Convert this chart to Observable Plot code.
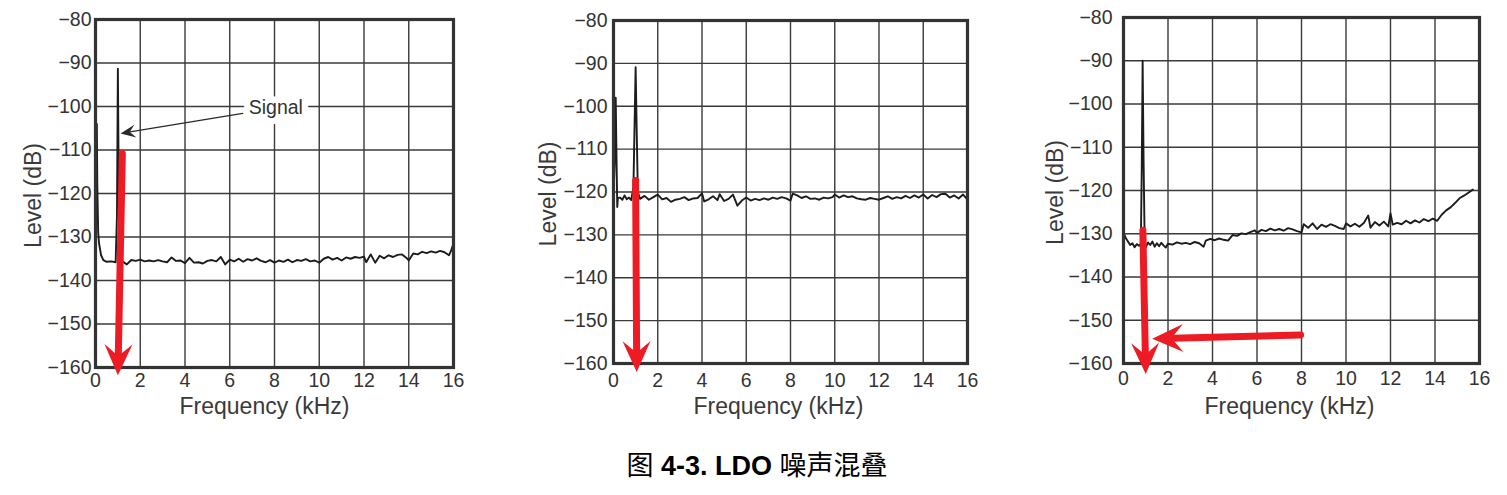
<!DOCTYPE html>
<html><head><meta charset="utf-8">
<script src="https://cdn.jsdelivr.net/npm/d3@7"></script>
<script src="https://cdn.jsdelivr.net/npm/@observablehq/plot@0.6"></script>
<style>
body{margin:0;background:#fff;}
#wrap{position:relative;width:1507px;height:495px;overflow:hidden;font-family:"Liberation Sans",Arial,sans-serif;background:#fff;}
.panel{position:absolute;top:0;}
#caption{position:absolute;left:0;width:1514px;top:444px;text-align:center;font-size:27px;line-height:40px;color:#000;white-space:nowrap;}
.cjk{font-family:"Noto Sans CJK SC",sans-serif;}
</style>
</head><body>
<div id="wrap">
  <div class="panel" id="p1" style="left:0px"></div>
  <div class="panel" id="p2" style="left:510px"></div>
  <div class="panel" id="p3" style="left:1010px"></div>
  <div id="caption"><span class="cjk">图</span> <b>4-3. LDO</b> <span class="cjk">噪声混叠</span></div>
</div>
<script>
// ---- tick labels / axis titles ----
const xTicks = [0, 2, 4, 6, 8, 10, 12, 14, 16];
const yTicks = [-80, -90, -100, -110, -120, -130, -140, -150, -160];
const xLabel = "Frequency (kHz)";
const yLabel = "Level (dB)";
const signalLabel = "Signal";

// ---- panel 1 ----
const p1Freq = [0.06,0.08,0.12,0.16,0.25,0.35,0.5,0.7,0.9,0.96,1.0,1.03,1.07,1.1,
  1.2,1.4,1.6,1.8,2.0,2.2,2.4,2.6,2.8,3.0,3.2,3.4,3.6,3.8,4.0,4.2,4.4,4.6,4.8,5.0,
  5.2,5.4,5.6,5.8,6.0,6.2,6.4,6.6,6.8,7.0,7.2,7.4,7.6,7.8,8.0,8.2,8.4,8.6,8.8,9.0,
  9.2,9.4,9.6,9.8,10.0,10.2,10.4,10.6,10.8,11.0,11.2,11.4,11.6,11.8,12.0,12.1,12.3,
  12.5,12.7,12.9,13.1,13.3,13.5,13.7,13.9,14.0,14.2,14.4,14.6,14.8,15.0,15.2,15.4,
  15.6,15.8,15.9,16.0];
const p1Level = [-104,-118,-129,-131.5,-134.2,-135.3,-135.7,-135.6,-135.8,-125,-91.3,-112,-130,-135.5,
  -135.6,-136.3,-135.3,-135.5,-135.2,-135.6,-135.4,-135.6,-135.3,-135.6,-135.8,-134.7,-135.5,-135.4,-136.0,-134.8,-135.9,-135.8,-136.1,-135.5,
  -135.3,-135.6,-134.6,-136.3,-135.2,-135.6,-135.0,-135.7,-135.1,-135.4,-134.9,-135.5,-135.8,-135.3,-135.9,-135.4,-135.7,-135.2,-135.8,-135.3,
  -135.5,-135.1,-135.6,-135.4,-135.9,-135.0,-134.6,-135.2,-134.8,-135.4,-134.7,-135.0,-134.6,-134.8,-134.5,-135.8,-134.0,
  -135.9,-134.3,-134.9,-134.2,-134.6,-134.1,-134.0,-134.8,-135.4,-133.8,-134.0,-133.4,-133.7,-133.3,-133.6,-133.2,
  -133.5,-134.2,-133.0,-131.5];
const p1Arrows = [{x1: 1.2, y1: -110.8, x2: 1.0, y2: -161.8}];
const p1Leader = [{x1: 6.58, y1: -101.6, x2: 1.12, y2: -106.2}];
const p1Signal = [{x: 8.06, y: -100.2}];

// ---- panel 2 ----
const p2Freq = [0.0,0.06,0.1,0.13,0.17,0.2,0.3,0.4,0.5,0.6,0.7,0.8,0.9,0.95,1.0,1.05,1.1,
  1.2,1.4,1.6,1.8,2.0,2.2,2.4,2.6,2.8,3.0,3.2,3.4,3.6,3.8,4.0,4.1,4.3,4.5,4.7,4.8,5.0,
  5.2,5.4,5.6,5.8,6.0,6.2,6.4,6.6,6.8,7.0,7.2,7.4,7.6,7.8,8.0,8.1,8.3,8.5,8.7,8.9,9.1,
  9.3,9.5,9.7,9.9,10.0,10.2,10.4,10.6,10.8,11.0,11.2,11.4,11.6,11.8,12.0,12.2,12.4,12.6,
  12.8,13.0,13.2,13.4,13.6,13.8,14.0,14.2,14.4,14.6,14.8,15.0,15.2,15.4,15.6,15.8,16.0];
const p2Level = [-121,-112,-98,-110,-123.5,-121.4,-121.3,-121.8,-120.8,-121.7,-121.3,-121.9,-119,-105,-90.9,-106,-120,
  -121.6,-120.9,-121.8,-121.2,-120.6,-121.7,-121.4,-122.3,-121.8,-121.6,-121.2,-121.9,-121.5,-121.4,-120.3,-122.2,-121.7,-121.0,-121.9,-120.5,-122.1,
  -121.6,-120.6,-123.2,-122.0,-121.3,-122.0,-121.6,-121.9,-121.5,-121.8,-121.3,-121.6,-121.2,-121.5,-122.0,-120.4,-120.8,-121.4,-121.0,-121.6,-121.5,
  -121.8,-121.3,-121.5,-121.2,-120.6,-121.3,-120.8,-121.2,-121.0,-121.5,-121.7,-121.8,-121.4,-121.6,-121.8,-121.4,-121.0,-121.6,
  -121.2,-121.5,-120.9,-121.4,-120.8,-121.3,-120.6,-121.5,-120.7,-121.2,-120.5,-120.4,-121.3,-120.8,-121.5,-120.6,-121.8];
const p2Arrows = [{x1: 1.0, y1: -117.3, x2: 1.05, y2: -162}];

// ---- panel 3 ----
const p3Freq = [0.0,0.1,0.2,0.3,0.4,0.5,0.6,0.7,0.78,0.82,0.86,0.9,0.95,1.0,1.1,1.2,1.3,1.4,1.5,1.6,1.7,1.8,1.9,
  2.0,2.2,2.4,2.6,2.8,3.0,3.2,3.4,3.6,3.7,3.9,4.1,4.3,4.5,4.7,4.9,5.1,5.3,5.5,5.7,5.9,6.0,6.2,6.4,
  6.6,6.8,7.0,7.2,7.4,7.6,7.8,8.0,8.1,8.3,8.5,8.7,8.9,9.1,9.3,9.5,9.7,9.9,10.0,10.2,10.4,10.6,10.8,
  11.0,11.1,11.3,11.5,11.7,11.9,12.0,12.1,12.3,12.5,12.7,12.9,13.1,13.3,13.5,13.7,13.9,14.1,14.3,
  14.5,14.7,14.9,15.1,15.3,15.5,15.7];
const p3Level = [-129.7,-131.0,-131.8,-132.6,-132.2,-133.1,-132.4,-132.8,-132.3,-115,-90,-112,-131.5,-133.2,-132.0,-132.6,-131.8,-133.0,-132.2,-132.9,-132.1,-132.7,-133.2,
  -132.3,-132.5,-132.0,-132.3,-132.1,-132.4,-131.9,-132.2,-133.0,-131.6,-131.2,-131.5,-131.1,-131.4,-131.6,-130.3,-130.5,-129.9,-130.1,-129.6,-129.2,-129.8,-129.1,-129.4,
  -128.8,-129.2,-128.9,-129.3,-128.7,-129.0,-129.4,-129.7,-127.8,-128.6,-127.6,-128.9,-127.9,-128.4,-127.8,-128.2,-128.7,-128.9,-127.6,-128.3,-127.7,-128.4,-127.5,
  -125.8,-128.6,-127.3,-128.1,-127.2,-128.3,-125.3,-127.9,-127.5,-127.8,-127.0,-127.6,-126.9,-127.4,-126.6,-127.1,-126.5,-127.0,-125.6,
  -124.6,-123.9,-122.9,-121.8,-121.2,-120.5,-119.8];
const p3Arrows = [
  {x1: 0.87, y1: -129.2, x2: 1.0, y2: -162.4},
  {x1: 7.96, y1: -153.4, x2: 1.29, y2: -154.3}
];

// ---- drawing ----
const stealth = {
  draw(context, l, r) {
    context.moveTo(0, -l);
    context.lineTo(r, 0);
    context.lineTo(0, -l * 0.38);
    context.lineTo(-r, 0);
    context.closePath();
  }
};
const RED = "#ed1c24";
const INK = "#333";

function panel(cfg) {
  const {freq, level, arrows, w, h, ml, mr, mt, mb, yPad, xPad, xLabelDy, xLabelDx, yLabelDx, extra} = cfg;
  const series = freq.map((f, i) => ({f, v: level[i]}));
  const kx = (w - ml - mr) / 16, ky = (h - mt - mb) / 80;
  const heads = arrows.map(a => ({x: a.x2, y: a.y2,
    rot: Math.atan2((a.x2 - a.x1) * kx, (a.y2 - a.y1) * ky) * 180 / Math.PI}));
  return Plot.plot({
    width: w, height: h,
    marginLeft: ml, marginRight: mr, marginTop: mt, marginBottom: mb,
    style: {fontFamily: "'Liberation Sans', Arial, sans-serif", fontSize: "19px", color: INK, background: "transparent", overflow: "visible"},
    x: {domain: [0, 16], label: null},
    y: {domain: [-160, -80], label: null},
    marks: [
      Plot.gridX(xTicks, {stroke: "#3a3a3a", strokeOpacity: 1, strokeWidth: 1.4}),
      Plot.gridY(yTicks, {stroke: "#3a3a3a", strokeOpacity: 1, strokeWidth: 1.4}),
      Plot.axisX(xTicks, {tickSize: 0, tickPadding: xPad, label: null, fontSize: 19.5}),
      Plot.axisY(yTicks, {tickSize: 0, tickPadding: yPad, label: null, fontSize: 19.5}),
      ...(extra || []),
      Plot.line(series, {x: "f", y: "v", stroke: "#1c1c1c", strokeWidth: 1.9, strokeLinejoin: "round"}),
      Plot.frame({stroke: "#333", strokeWidth: 3.2}),
      Plot.arrow(arrows, {x1: "x1", y1: "y1", x2: "x2", y2: "y2", stroke: RED, strokeWidth: 7,
        headLength: 0, insetEnd: 20, strokeLinecap: "round"}),
      Plot.vector(heads, {x: "x", y: "y", rotate: "rot", length: 31, r: 14, anchor: "end",
        shape: stealth, fill: RED, stroke: "none"}),
      Plot.text([xLabel], {text: d => d, frameAnchor: "bottom", textAnchor: "middle", lineAnchor: "top", dy: xLabelDy, dx: xLabelDx, fontSize: 23, fill: "#3a3a3a"}),
      Plot.text([yLabel], {text: d => d, frameAnchor: "left", textAnchor: "middle", lineAnchor: "middle", rotate: -90, dx: yLabelDx, dy: 2, fontSize: 23, fill: "#3a3a3a"})
    ]
  });
}

const p1Extra = (() => {
  const kx = (500 - 95 - 47) / 16, ky = (420 - 19 - 53) / 80;
  const lh = p1Leader.map(a => ({x: a.x2, y: a.y2,
    rot: Math.atan2((a.x2 - a.x1) * kx, (a.y2 - a.y1) * ky) * 180 / Math.PI}));
  return [
    Plot.text(p1Signal, {x: "x", y: "y", text: () => signalLabel, fontSize: 19.5, fill: INK,
      stroke: "white", strokeWidth: 13, paintOrder: "stroke", strokeLinejoin: "round"}),
    Plot.arrow(p1Leader, {x1: "x1", y1: "y1", x2: "x2", y2: "y2", stroke: "#2a2a2a", strokeWidth: 1.3,
      headLength: 0, insetEnd: 8}),
    Plot.vector(lh, {x: "x", y: "y", rotate: "rot", length: 15, r: 6.5, anchor: "end",
      shape: stealth, fill: "#2a2a2a", stroke: "none"})
  ];
})();

document.getElementById("p1").append(panel({freq: p1Freq, level: p1Level, arrows: p1Arrows,
  w: 500, h: 420, ml: 95, mr: 47, mt: 19, mb: 53, yPad: 4, xPad: 6, xLabelDy: 30, xLabelDx: -10, yLabelDx: -62, extra: p1Extra}));
document.getElementById("p2").append(panel({freq: p2Freq, level: p2Level, arrows: p2Arrows,
  w: 500, h: 420, ml: 103, mr: 43, mt: 20, mb: 57, yPad: 6, xPad: 10, xLabelDy: 34, xLabelDx: -12, yLabelDx: -65}));
document.getElementById("p3").append(panel({freq: p3Freq, level: p3Level, arrows: p3Arrows,
  w: 497, h: 420, ml: 113, mr: 28, mt: 17, mb: 57, yPad: 11, xPad: 8, xLabelDy: 34, xLabelDx: -12, yLabelDx: -68}));
</script>
</body></html>
